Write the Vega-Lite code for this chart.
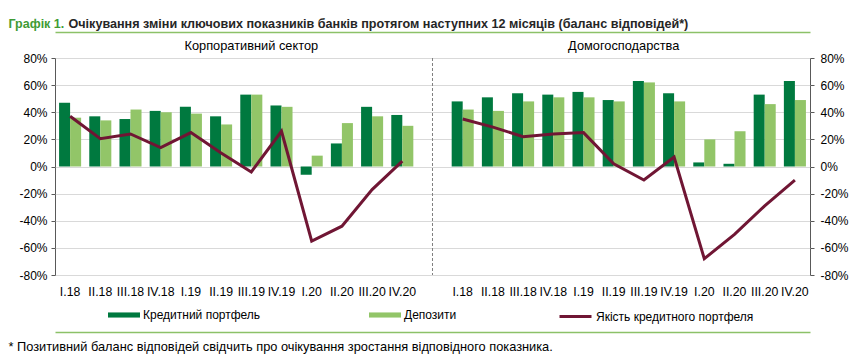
{
  "$schema": "https://vega.github.io/schema/vega-lite/v6.json",
  "width": 755,
  "height": 217,
  "autosize": {"type": "none"},
  "padding": {"left": 55, "top": 58, "right": 55, "bottom": 82},
  "background": "white",
  "config": {"font": "Liberation Sans", "view": {"stroke": "#595959", "strokeWidth": 1}},
  "data": {"values": [
    {"cat": "C|I.18", "s": "C", "series": "Кредитний портфель", "value": 47},
    {"cat": "C|II.18", "s": "C", "series": "Кредитний портфель", "value": 37},
    {"cat": "C|III.18", "s": "C", "series": "Кредитний портфель", "value": 35},
    {"cat": "C|IV.18", "s": "C", "series": "Кредитний портфель", "value": 41},
    {"cat": "C|I.19", "s": "C", "series": "Кредитний портфель", "value": 44},
    {"cat": "C|II.19", "s": "C", "series": "Кредитний портфель", "value": 37},
    {"cat": "C|III.19", "s": "C", "series": "Кредитний портфель", "value": 53},
    {"cat": "C|IV.19", "s": "C", "series": "Кредитний портфель", "value": 45},
    {"cat": "C|I.20", "s": "C", "series": "Кредитний портфель", "value": -6},
    {"cat": "C|II.20", "s": "C", "series": "Кредитний портфель", "value": 17},
    {"cat": "C|III.20", "s": "C", "series": "Кредитний портфель", "value": 44},
    {"cat": "C|IV.20", "s": "C", "series": "Кредитний портфель", "value": 38},
    {"cat": "C|I.18", "s": "C", "series": "Депозити", "value": 36},
    {"cat": "C|II.18", "s": "C", "series": "Депозити", "value": 34},
    {"cat": "C|III.18", "s": "C", "series": "Депозити", "value": 42},
    {"cat": "C|IV.18", "s": "C", "series": "Депозити", "value": 40},
    {"cat": "C|I.19", "s": "C", "series": "Депозити", "value": 39},
    {"cat": "C|II.19", "s": "C", "series": "Депозити", "value": 31},
    {"cat": "C|III.19", "s": "C", "series": "Депозити", "value": 53},
    {"cat": "C|IV.19", "s": "C", "series": "Депозити", "value": 44},
    {"cat": "C|I.20", "s": "C", "series": "Депозити", "value": 8},
    {"cat": "C|II.20", "s": "C", "series": "Депозити", "value": 32},
    {"cat": "C|III.20", "s": "C", "series": "Депозити", "value": 37},
    {"cat": "C|IV.20", "s": "C", "series": "Депозити", "value": 30},
    {"cat": "C|I.18", "s": "C", "series": "Якість кредитного портфеля", "value": 37},
    {"cat": "C|II.18", "s": "C", "series": "Якість кредитного портфеля", "value": 20.5},
    {"cat": "C|III.18", "s": "C", "series": "Якість кредитного портфеля", "value": 24},
    {"cat": "C|IV.18", "s": "C", "series": "Якість кредитного портфеля", "value": 14},
    {"cat": "C|I.19", "s": "C", "series": "Якість кредитного портфеля", "value": 25},
    {"cat": "C|II.19", "s": "C", "series": "Якість кредитного портфеля", "value": 10},
    {"cat": "C|III.19", "s": "C", "series": "Якість кредитного портфеля", "value": -4},
    {"cat": "C|IV.19", "s": "C", "series": "Якість кредитного портфеля", "value": 26},
    {"cat": "C|I.20", "s": "C", "series": "Якість кредитного портфеля", "value": -55},
    {"cat": "C|II.20", "s": "C", "series": "Якість кредитного портфеля", "value": -44},
    {"cat": "C|III.20", "s": "C", "series": "Якість кредитного портфеля", "value": -17},
    {"cat": "C|IV.20", "s": "C", "series": "Якість кредитного портфеля", "value": 4},
    {"cat": "H|I.18", "s": "H", "series": "Кредитний портфель", "value": 48},
    {"cat": "H|II.18", "s": "H", "series": "Кредитний портфель", "value": 51},
    {"cat": "H|III.18", "s": "H", "series": "Кредитний портфель", "value": 54},
    {"cat": "H|IV.18", "s": "H", "series": "Кредитний портфель", "value": 53},
    {"cat": "H|I.19", "s": "H", "series": "Кредитний портфель", "value": 55},
    {"cat": "H|II.19", "s": "H", "series": "Кредитний портфель", "value": 49},
    {"cat": "H|III.19", "s": "H", "series": "Кредитний портфель", "value": 63},
    {"cat": "H|IV.19", "s": "H", "series": "Кредитний портфель", "value": 54},
    {"cat": "H|I.20", "s": "H", "series": "Кредитний портфель", "value": 3},
    {"cat": "H|II.20", "s": "H", "series": "Кредитний портфель", "value": 2},
    {"cat": "H|III.20", "s": "H", "series": "Кредитний портфель", "value": 53},
    {"cat": "H|IV.20", "s": "H", "series": "Кредитний портфель", "value": 63},
    {"cat": "H|I.18", "s": "H", "series": "Депозити", "value": 42},
    {"cat": "H|II.18", "s": "H", "series": "Депозити", "value": 41},
    {"cat": "H|III.18", "s": "H", "series": "Депозити", "value": 48},
    {"cat": "H|IV.18", "s": "H", "series": "Депозити", "value": 51},
    {"cat": "H|I.19", "s": "H", "series": "Депозити", "value": 51},
    {"cat": "H|II.19", "s": "H", "series": "Депозити", "value": 48},
    {"cat": "H|III.19", "s": "H", "series": "Депозити", "value": 62},
    {"cat": "H|IV.19", "s": "H", "series": "Депозити", "value": 48},
    {"cat": "H|I.20", "s": "H", "series": "Депозити", "value": 20},
    {"cat": "H|II.20", "s": "H", "series": "Депозити", "value": 26},
    {"cat": "H|III.20", "s": "H", "series": "Депозити", "value": 46},
    {"cat": "H|IV.20", "s": "H", "series": "Депозити", "value": 49},
    {"cat": "H|I.18", "s": "H", "series": "Якість кредитного портфеля", "value": 35},
    {"cat": "H|II.18", "s": "H", "series": "Якість кредитного портфеля", "value": 29},
    {"cat": "H|III.18", "s": "H", "series": "Якість кредитного портфеля", "value": 22},
    {"cat": "H|IV.18", "s": "H", "series": "Якість кредитного портфеля", "value": 24},
    {"cat": "H|I.19", "s": "H", "series": "Якість кредитного портфеля", "value": 25},
    {"cat": "H|II.19", "s": "H", "series": "Якість кредитного портфеля", "value": 2},
    {"cat": "H|III.19", "s": "H", "series": "Якість кредитного портфеля", "value": -10},
    {"cat": "H|IV.19", "s": "H", "series": "Якість кредитного портфеля", "value": 7},
    {"cat": "H|I.20", "s": "H", "series": "Якість кредитного портфеля", "value": -68},
    {"cat": "H|II.20", "s": "H", "series": "Якість кредитного портфеля", "value": -50},
    {"cat": "H|III.20", "s": "H", "series": "Якість кредитного портфеля", "value": -29},
    {"cat": "H|IV.20", "s": "H", "series": "Якість кредитного портфеля", "value": -10}
  ]},
  "layer": [
    {
      "transform": [{"filter": "datum.series !== 'Якість кредитного портфеля'"}],
      "mark": {"type": "bar"},
      "encoding": {
        "x": {
          "field": "cat",
          "type": "nominal",
          "sort": null,
          "scale": {
            "domain": ["C|I.18", "C|II.18", "C|III.18", "C|IV.18", "C|I.19", "C|II.19", "C|III.19", "C|IV.19", "C|I.20", "C|II.20", "C|III.20", "C|IV.20", "sep|", "H|I.18", "H|II.18", "H|III.18", "H|IV.18", "H|I.19", "H|II.19", "H|III.19", "H|IV.19", "H|I.20", "H|II.20", "H|III.20", "H|IV.20"],
            "paddingInner": 0.27,
            "paddingOuter": 0.135
          },
          "axis": {
            "title": "* Позитивний баланс відповідей свідчить про очікування зростання відповідного показника.",
            "titleX": -47,
            "titleY": 75,
            "titleAlign": "left",
            "titleBaseline": "alphabetic",
            "titleFontSize": 12.8,
            "titleFontWeight": "normal",
            "titleColor": "#000000",
            "labelExpr": "split(datum.value, '|')[1]",
            "labelAngle": 0,
            "labelOverlap": false,
            "labelFontSize": 12.3,
            "labelColor": "#000000",
            "labelPadding": 10,
            "ticks": false,
            "domain": false
          }
        },
        "xOffset": {"field": "series", "type": "nominal", "scale": {"domain": ["Кредитний портфель", "Депозити"]}},
        "y": {
          "field": "value",
          "type": "quantitative",
          "scale": {"domain": [-80, 80]},
          "axis": {
            "orient": "left",
            "values": [-80, -60, -40, -20, 0, 20, 40, 60, 80],
            "labelExpr": "datum.value + '%'",
            "grid": true,
            "gridColor": "#d9d9d9",
            "domain": false,
            "tickColor": "#595959",
            "tickSize": 4,
            "labelPadding": 4,
            "labelFontSize": 12,
            "labelColor": "#000000",
            "title": null
          }
        },
        "color": {
          "field": "series",
          "type": "nominal",
          "scale": {
            "domain": ["Кредитний портфель", "Депозити"],
            "range": ["#00793f", "#92c568"]
          },
          "legend": {
            "title": null,
            "orient": "none",
            "legendX": 53,
            "legendY": 241,
            "direction": "horizontal",
            "symbolType": "M-1,-0.16H1V0.16H-1Z",
            "symbolSize": 1024,
            "symbolStrokeWidth": 0,
            "labelFontSize": 12,
            "labelColor": "#000000",
            "labelOffset": 3,
            "columnPadding": 108,
            "labelLimit": 300
          }
        }
      }
    },
    {
      "data": {"values": [{"cat": "sep|"}]},
      "mark": {"type": "rule", "color": "#808080", "strokeDash": [3, 2], "strokeWidth": 1},
      "encoding": {
        "x": {
          "field": "cat",
          "type": "nominal",
          "sort": null,
          "scale": {
            "domain": ["C|I.18", "C|II.18", "C|III.18", "C|IV.18", "C|I.19", "C|II.19", "C|III.19", "C|IV.19", "C|I.20", "C|II.20", "C|III.20", "C|IV.20", "sep|", "H|I.18", "H|II.18", "H|III.18", "H|IV.18", "H|I.19", "H|II.19", "H|III.19", "H|IV.19", "H|I.20", "H|II.20", "H|III.20", "H|IV.20"],
            "paddingInner": 0.27,
            "paddingOuter": 0.135
          },
          "axis": {
            "orient": "top",
            "offset": 26,
            "labels": false,
            "ticks": false,
            "grid": false,
            "title": null,
            "domain": true,
            "domainColor": "#8cc168",
            "domainWidth": 1.5
          }
        }
      }
    },
    {
      "transform": [{"filter": "datum.series === 'Якість кредитного портфеля'"}],
      "mark": {"type": "line", "strokeWidth": 3},
      "encoding": {
        "x": {
          "field": "cat",
          "type": "nominal",
          "sort": null,
          "scale": {
            "domain": ["C|I.18", "C|II.18", "C|III.18", "C|IV.18", "C|I.19", "C|II.19", "C|III.19", "C|IV.19", "C|I.20", "C|II.20", "C|III.20", "C|IV.20", "sep|", "H|I.18", "H|II.18", "H|III.18", "H|IV.18", "H|I.19", "H|II.19", "H|III.19", "H|IV.19", "H|I.20", "H|II.20", "H|III.20", "H|IV.20"],
            "paddingInner": 0.27,
            "paddingOuter": 0.135
          },
          "axis": null
        },
        "y": {
          "field": "value",
          "type": "quantitative",
          "scale": {"domain": [-80, 80]},
          "axis": {
            "orient": "right",
            "values": [-80, -60, -40, -20, 0, 20, 40, 60, 80],
            "labelExpr": "datum.value + '%'",
            "grid": false,
            "domain": false,
            "tickColor": "#595959",
            "tickSize": 4,
            "labelPadding": 6,
            "labelFontSize": 12,
            "labelColor": "#000000",
            "title": null
          }
        },
        "stroke": {
          "field": "series",
          "type": "nominal",
          "scale": {"domain": ["Якість кредитного портфеля"], "range": ["#701634"]},
          "legend": {
            "title": null,
            "orient": "none",
            "legendX": 503,
            "legendY": 241,
            "direction": "horizontal",
            "symbolType": "stroke",
            "symbolSize": 1024,
            "symbolStrokeWidth": 3,
            "labelFontSize": 12,
            "labelColor": "#000000",
            "labelOffset": 3,
            "labelLimit": 300
          }
        },
        "detail": {"field": "s", "type": "nominal"}
      }
    },
    {
      "data": {"values": [{"cat": "C|III.19", "label": "Корпоративний сектор"}]},
      "mark": {"type": "text", "dy": -8, "baseline": "alphabetic", "fontSize": 12.8, "color": "#000000"},
      "encoding": {
        "x": {
          "field": "cat",
          "type": "nominal",
          "sort": null,
          "scale": {
            "domain": ["C|I.18", "C|II.18", "C|III.18", "C|IV.18", "C|I.19", "C|II.19", "C|III.19", "C|IV.19", "C|I.20", "C|II.20", "C|III.20", "C|IV.20", "sep|", "H|I.18", "H|II.18", "H|III.18", "H|IV.18", "H|I.19", "H|II.19", "H|III.19", "H|IV.19", "H|I.20", "H|II.20", "H|III.20", "H|IV.20"],
            "paddingInner": 0.27,
            "paddingOuter": 0.135
          },
          "axis": {
            "orient": "bottom",
            "offset": 57,
            "labels": false,
            "ticks": false,
            "grid": false,
            "title": null,
            "domain": true,
            "domainColor": "#8cc168",
            "domainWidth": 1.5
          }
        },
        "y": {
          "datum": 80,
          "type": "quantitative",
          "scale": {"domain": [-80, 80]},
          "axis": {
            "orient": "left",
            "labels": false,
            "ticks": false,
            "domain": false,
            "grid": false,
            "title": "Графік 1.",
            "titleAngle": 0,
            "titleX": -47,
            "titleY": -31,
            "titleAlign": "left",
            "titleBaseline": "alphabetic",
            "titleFontSize": 12.5,
            "titleFontWeight": "bold",
            "titleColor": "#3f9b35"
          }
        },
        "text": {"field": "label"}
      }
    },
    {
      "data": {"values": [{"cat": "H|II.19", "label": "Домогосподарства"}]},
      "mark": {"type": "text", "dy": -8, "dx": 10, "baseline": "alphabetic", "fontSize": 12.8, "color": "#000000"},
      "encoding": {
        "x": {
          "field": "cat",
          "type": "nominal",
          "sort": null,
          "scale": {
            "domain": ["C|I.18", "C|II.18", "C|III.18", "C|IV.18", "C|I.19", "C|II.19", "C|III.19", "C|IV.19", "C|I.20", "C|II.20", "C|III.20", "C|IV.20", "sep|", "H|I.18", "H|II.18", "H|III.18", "H|IV.18", "H|I.19", "H|II.19", "H|III.19", "H|IV.19", "H|I.20", "H|II.20", "H|III.20", "H|IV.20"],
            "paddingInner": 0.27,
            "paddingOuter": 0.135
          },
          "axis": null
        },
        "y": {
          "datum": 80,
          "type": "quantitative",
          "scale": {"domain": [-80, 80]},
          "axis": {
            "orient": "left",
            "labels": false,
            "ticks": false,
            "domain": false,
            "grid": false,
            "title": "Очікування зміни ключових показників банків протягом наступних 12 місяців (баланс відповідей*)",
            "titleAngle": 0,
            "titleX": 13,
            "titleY": -31,
            "titleAlign": "left",
            "titleBaseline": "alphabetic",
            "titleFontSize": 12.6,
            "titleFontWeight": "bold",
            "titleColor": "#262626",
            "titleLimit": 800
          }
        },
        "text": {"field": "label"}
      }
    }
  ],
  "resolve": {"axis": {"x": "independent", "y": "independent"}}
}
